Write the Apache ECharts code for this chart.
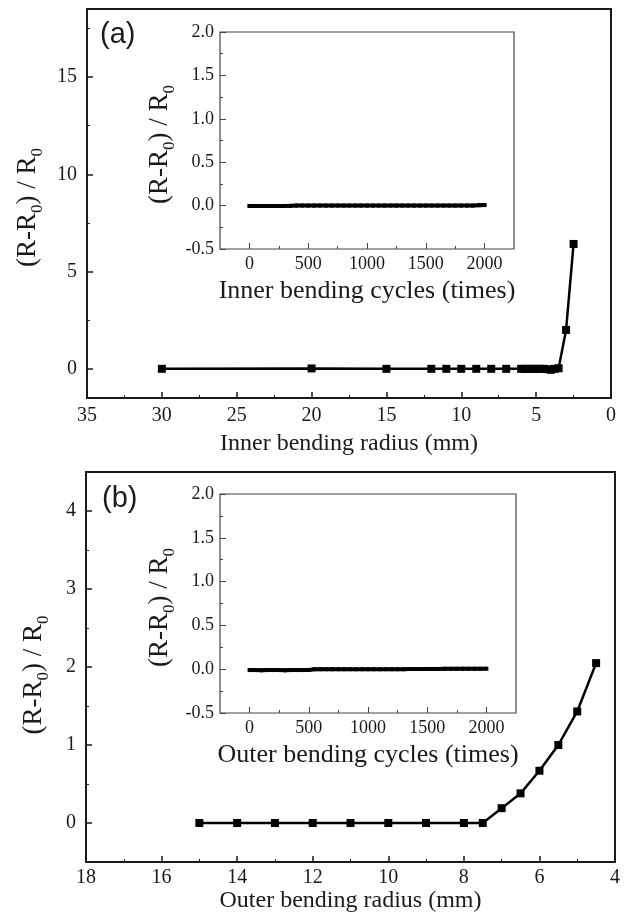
<!DOCTYPE html>
<html>
<head>
<meta charset="utf-8">
<script src="https://cdn.jsdelivr.net/npm/echarts@6/dist/echarts.min.js"></script>
<style>
  html, body { margin: 0; padding: 0; background: #fff; }
  #chart { width: 629px; height: 923px; }
</style>
</head>
<body>
<div id="chart"></div>
<script>
// (a) inner bending: radius (mm) vs (R-R0)/R0
var innerRadius = [30, 20, 15, 12, 11, 10, 9, 8, 7, 6, 5.75, 5.5, 5.25, 5, 4.75, 4.5, 4.25, 4, 3.75, 3.5, 3, 2.5];
var innerResist = [0, 0.02, 0, 0, 0, 0, 0, 0, 0, 0, 0, 0, 0, 0, 0, 0, -0.02, -0.05, 0, 0.03, 2.0, 6.42];

// (b) outer bending
var outerRadius = [15, 14, 13, 12, 11, 10, 9, 8, 7.5, 7, 6.5, 6, 5.5, 5, 4.5];
var outerResist = [0, 0, 0, 0, 0, 0, 0, 0, 0, 0.19, 0.38, 0.67, 1.0, 1.43, 2.05];

// insets: bending cycles vs (R-R0)/R0
var cycles = [0, 50, 100, 150, 200, 250, 300, 350, 400, 450, 500, 550, 600, 650, 700, 750, 800, 850, 900, 950, 1000,
              1050, 1100, 1150, 1200, 1250, 1300, 1350, 1400, 1450, 1500, 1550, 1600, 1650, 1700, 1750, 1800, 1850, 1900, 1950, 2000];
var innerCycleResist = [-0.004, -0.004, -0.005, -0.004, -0.005, -0.004, -0.004, -0.003, 0, 0, 0, 0, 0, 0, 0, 0, 0, 0, 0, 0, 0,
                        0, 0, 0, 0, 0, 0, 0, 0, 0, 0, 0, 0, 0, 0, 0, 0, 0, 0, 0.005, 0.006];
var outerCycleResist = [-0.01, -0.01, -0.012, -0.01, -0.01, -0.01, -0.012, -0.01, -0.01, -0.01, -0.008, 0, 0, 0, 0, 0, 0, 0, 0, 0, 0,
                        0, 0, 0, 0, 0, 0, 0.002, 0.002, 0.002, 0.003, 0.003, 0.003, 0.004, 0.004, 0.004, 0.005, 0.005, 0.005, 0.005, 0.006];

var innerMajor = [0, 5, 10, 15], innerMinor = [2.5, 7.5, 12.5, 17.5];
var outerMajor = [0, 1, 2, 3, 4], outerMinor = [0.5, 1.5, 2.5, 3.5];
var cycleMajor = [0, 500, 1000, 1500, 2000], cycleMinor = [250, 750, 1250, 1750];

var serif = '"Liberation Serif", "Times New Roman", serif';
var ink = '#1a1a1a';
var yName = '(R-R{s|0}) / R{s|0}';

function nameStyle(size, shift) {
    return {
        fontFamily: serif, fontSize: size, color: ink,
        padding: [0, shift || 0, 0, 0],
        rich: { s: { fontFamily: serif, fontSize: Math.round(size * 0.62), color: ink, verticalAlign: 'bottom', padding: [Math.round(size * 0.7), 0, 0, 0] } }
    };
}

function pair(p) {
    var tickColor = p.inset ? '#444' : ink;
    var major = {
        type: 'value', gridIndex: p.grid, position: p.pos, min: p.min, max: p.max, inverse: !!p.inverse,
        axisLine: { show: false, onZero: false },
        splitLine: { show: false },
        axisTick: { show: true, inside: true, length: 6, lineStyle: { color: tickColor, width: p.inset ? 1 : 1.5 } },
        axisLabel: { margin: p.margin, fontFamily: serif, fontSize: p.fontSize, color: ink, formatter: p.fmt || function (v) { return String(v); } },
        name: p.name, nameLocation: 'middle', nameGap: p.nameGap, nameTextStyle: nameStyle(p.nameSize, p.shift)
    };
    if (p.interval) {
        major.interval = p.interval;
        major.minorTick = { show: true, splitNumber: 2, length: 3, lineStyle: { color: tickColor, width: 1 } };
        return [major];
    }
    major.axisTick.customValues = p.major;
    major.axisLabel.customValues = p.major;
    var minor = {
        type: 'value', gridIndex: p.grid, position: p.pos, min: p.min, max: p.max, inverse: !!p.inverse,
        axisLine: { show: false, onZero: false }, splitLine: { show: false }, axisLabel: { show: false },
        axisTick: { show: true, inside: true, length: 3, customValues: p.minor, lineStyle: { color: tickColor, width: 1 } }
    };
    return [major, minor];
}

var fmt1 = function (v) { return v.toFixed(1); };

var xAxes = [], yAxes = [];
function add(list, axes) { axes.forEach(function (a) { list.push(a); }); return list.length - axes.length; }

var xa = add(xAxes, pair({ grid: 0, pos: 'bottom', min: 0, max: 35, interval: 5, inverse: true, margin: 8, fontSize: 20, name: 'Inner bending radius (mm)', nameGap: 34, nameSize: 24 }));
var ya = add(yAxes, pair({ grid: 0, pos: 'left', min: -1.5, max: 18.5, major: innerMajor, minor: innerMinor, margin: 10, fontSize: 20, name: yName, nameGap: 34, nameSize: 27, shift: 8 }));
var xai = add(xAxes, pair({ grid: 1, pos: 'bottom', min: -250, max: 2250, major: cycleMajor, minor: cycleMinor, inset: true, margin: 6, fontSize: 18, name: 'Inner bending cycles (times)', nameGap: 29, nameSize: 26 }));
var yai = add(yAxes, pair({ grid: 1, pos: 'left', min: -0.5, max: 2.0, interval: 0.5, inset: true, margin: 6, fontSize: 18, fmt: fmt1, name: yName, nameGap: 42, nameSize: 27, shift: 8 }));
var xb = add(xAxes, pair({ grid: 2, pos: 'bottom', min: 4, max: 18, interval: 2, inverse: true, margin: 6, fontSize: 20, name: 'Outer bending radius (mm)', nameGap: 26, nameSize: 24 }));
var yb = add(yAxes, pair({ grid: 2, pos: 'left', min: -0.5, max: 4.5, major: outerMajor, minor: outerMinor, margin: 10, fontSize: 20, name: yName, nameGap: 34, nameSize: 27, shift: 16 }));
var xbi = add(xAxes, pair({ grid: 3, pos: 'bottom', min: -250, max: 2250, major: cycleMajor, minor: cycleMinor, inset: true, margin: 6, fontSize: 18, name: 'Outer bending cycles (times)', nameGap: 29, nameSize: 26 }));
var ybi = add(yAxes, pair({ grid: 3, pos: 'left', min: -0.5, max: 2.0, interval: 0.5, inset: true, margin: 6, fontSize: 18, fmt: fmt1, name: yName, nameGap: 42, nameSize: 27, shift: 8 }));

function zipPts(xs, ys) { return xs.map(function (x, i) { return [x, ys[i]]; }); }

function lineSeries(xi, yi, data, big) {
    return {
        type: 'line', xAxisIndex: xi, yAxisIndex: yi, data: data,
        symbol: 'rect', symbolSize: big ? 8 : 4,
        itemStyle: { color: '#000' },
        lineStyle: { color: '#000', width: big ? 2.5 : 4 },
        animation: false, silent: true
    };
}

var chart = echarts.init(document.getElementById('chart'));
chart.setOption({
    backgroundColor: '#fff',
    animation: false,
    title: [
        { text: '(a)', left: 100, top: 20, padding: 0, textStyle: { fontFamily: '"Liberation Sans", Arial, sans-serif', fontSize: 29, fontWeight: 'normal', color: ink } },
        { text: '(b)', left: 102, top: 484, padding: 0, textStyle: { fontFamily: '"Liberation Sans", Arial, sans-serif', fontSize: 29, fontWeight: 'normal', color: ink } }
    ],
    grid: [
        { left: 87, top: 9, width: 524, height: 389, show: true, borderColor: ink, borderWidth: 2 },
        { left: 220, top: 32, width: 294, height: 217, show: true, borderColor: '#444', borderWidth: 1.2 },
        { left: 86, top: 472, width: 529, height: 390, show: true, borderColor: ink, borderWidth: 2 },
        { left: 220, top: 494, width: 296, height: 219, show: true, borderColor: '#444', borderWidth: 1.2 }
    ],
    xAxis: xAxes,
    yAxis: yAxes,
    series: [
        lineSeries(xa, ya, zipPts(innerRadius, innerResist), true),
        lineSeries(xai, yai, zipPts(cycles, innerCycleResist), false),
        lineSeries(xb, yb, zipPts(outerRadius, outerResist), true),
        lineSeries(xbi, ybi, zipPts(cycles, outerCycleResist), false)
    ]
});
</script>
</body>
</html>
